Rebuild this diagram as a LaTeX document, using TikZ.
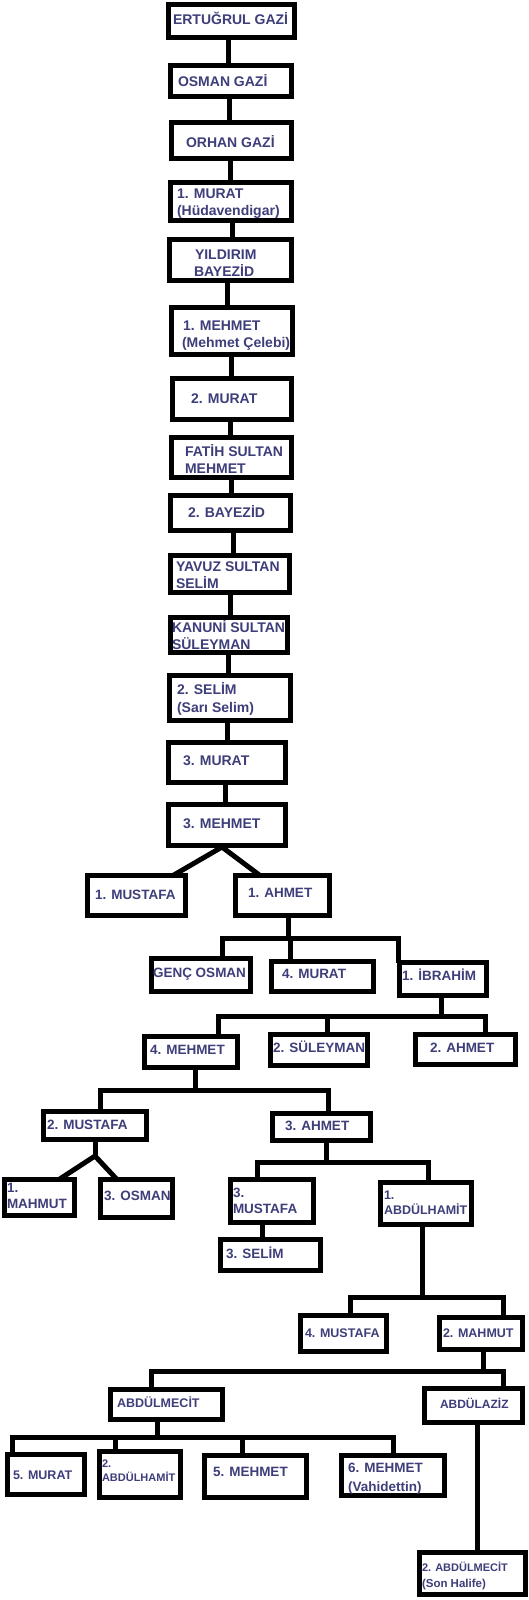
\documentclass[tikz,border=0pt]{standalone}
\usepackage{fontspec}
\setmainfont{Liberation Sans}
\definecolor{tc}{RGB}{62,62,122}
\tikzset{
  box/.style={draw=black, line width=5pt, inner sep=0pt, outer sep=0pt, fill=white},
  con/.style={draw=black, line width=5pt},
  txt/.style 2 args={anchor=west, inner sep=0pt, outer sep=0pt, text=tc,
     font=\bfseries\fontsize{#1}{#1}\selectfont, text height=#2, text depth=0pt},
  big/.style={txt={14}{10pt}},
  mid/.style={txt={13.5}{9.7pt}},
  sml/.style={txt={12.5}{8.95pt}},
  xsm/.style={txt={11}{7.9pt}},
}
\newcommand\obox[5]{\node[box, minimum width={#4-#2-5}, minimum height={#5-#3-5}] (#1) at ({(#2+#4)/2},{(#3+#5)/2}) {};}
\newcommand\vcon[3]{\draw[con] (#1.south -| #3,0) -- (#2.north -| #3,0);}
\begin{document}
\begin{tikzpicture}[x=1pt,y=-1pt]
\useasboundingbox (0,0) rectangle (529,1600);
% boxes
\obox{ert}{166}{2}{297}{40}
\obox{osm}{168}{63}{294}{99}
\obox{orh}{169}{120}{294}{161}
\obox{mur1}{168}{180}{294}{223}
\obox{yil}{167}{237}{294}{283}
\obox{meh1}{169}{305}{295}{357}
\obox{mur2}{170}{376}{294}{422}
\obox{fat}{169}{435}{294}{480}
\obox{bay2}{168}{493}{293}{533}
\obox{yav}{168}{553}{292}{595}
\obox{kan}{168}{615}{290}{655}
\obox{sel2}{167}{673}{293}{723}
\obox{mur3}{166}{740}{288}{785}
\obox{meh3}{166}{802}{288}{848}
\obox{mus1}{85}{873}{188}{918}
\obox{ahm1}{233}{873}{332}{918}
\obox{genc}{149}{956}{253}{994}
\obox{mur4}{269}{959}{376}{994}
\obox{ibr}{397}{960}{489}{998}
\obox{meh4}{142}{1034}{240}{1070}
\obox{sul2}{268}{1032}{370}{1068}
\obox{ahm2}{413}{1032}{518}{1067}
\obox{mus2}{41}{1109}{149}{1142}
\obox{ahm3}{270}{1111}{373}{1143}
\obox{mah1}{2}{1177}{77}{1218}
\obox{osm3}{98}{1177}{175}{1220}
\obox{mus3}{228}{1177}{316}{1225}
\obox{abd1}{378}{1180}{474}{1227}
\obox{sel3}{218}{1237}{323}{1273}
\obox{mus4}{298}{1313}{389}{1354}
\obox{mah2}{437}{1315}{525}{1352}
\obox{mec}{108}{1387}{225}{1422}
\obox{aziz}{422}{1386}{525}{1425}
\obox{mur5}{5}{1452}{87}{1497}
\obox{abd2}{97}{1449}{183}{1500}
\obox{meh5}{202}{1453}{309}{1500}
\obox{meh6}{339}{1453}{447}{1498}
\obox{mec2}{417}{1550}{528}{1597}
% chain connectors
\vcon{ert}{osm}{228}
\vcon{osm}{orh}{229}
\vcon{orh}{mur1}{230}
\vcon{mur1}{yil}{232}
\vcon{yil}{meh1}{227}
\vcon{meh1}{mur2}{231}
\vcon{mur2}{fat}{230}
\vcon{fat}{bay2}{231}
\vcon{bay2}{yav}{233}
\vcon{yav}{kan}{230}
\vcon{kan}{sel2}{228}
\vcon{sel2}{mur3}{227}
\vcon{mur3}{meh3}{225}
\vcon{mus3}{sel3}{262}
\vcon{aziz}{mec2}{477}
% junctions
\coordinate (j1) at (222,847);
\coordinate (j2) at (288,938);
\coordinate (j3) at (441,1016);
\coordinate (j4) at (195,1090);
\coordinate (j5) at (95,1156);
\coordinate (j6) at (326,1162);
\coordinate (j7) at (422,1297);
\coordinate (j8) at (483,1371);
\coordinate (j9) at (157,1437);
% trees
\draw[con] (mus1.north -| 173,0) -- (j1) -- (ahm1.north -| 260,0);
\draw[con] (ahm1.south -| 288,0) -- (j2);
\draw[con] (genc.north -| 222,0) |- (j2);
\draw[con] (mur4.north -| 290,0) |- (j2);
\draw[con] (ibr.north -| 398,0) |- (j2);
\draw[con] (ibr.south -| 441,0) -- (j3);
\draw[con] (meh4.north -| 218,0) |- (j3);
\draw[con] (sul2.north -| 327,0) |- (j3);
\draw[con] (ahm2.north -| 485,0) |- (j3);
\draw[con] (meh4.south -| 195,0) -- (j4);
\draw[con] (mus2.north -| 100,0) |- (j4);
\draw[con] (ahm3.north -| 328,0) |- (j4);
\draw[con] (mus2.south -| 95,0) -- (j5);
\draw[con] (mah1.north -| 59,0) -- (j5) -- (osm3.north -| 117,0);
\draw[con] (ahm3.south -| 326,0) -- (j6);
\draw[con] (mus3.north -| 257,0) |- (j6);
\draw[con] (abd1.north -| 428,0) |- (j6);
\draw[con] (abd1.south -| 422,0) -- (j7);
\draw[con] (mus4.north -| 350,0) |- (j7);
\draw[con] (mah2.north -| 503,0) |- (j7);
\draw[con] (mah2.south -| 483,0) -- (j8);
\draw[con] (mec.north -| 151,0) |- (j8);
\draw[con] (aziz.north -| 503,0) |- (j8);
\draw[con] (mec.south -| 157,0) -- (j9);
\draw[con] (mur5.north -| 12,0) |- (j9);
\draw[con] (abd2.north -| 115,0) |- (j9);
\draw[con] (meh5.north -| 242,0) |- (j9);
\draw[con] (meh6.north -| 393,0) |- (j9);
% texts
\node[big] (t1) at (173,20) {ERTUĞRUL GAZİ};
\node[big] (t2) at (178,82) {OSMAN GAZİ};
\node[big] (t3) at (186,142) {ORHAN GAZİ};
\node[big] (t4a) at (177,193) {1. MURAT};
\node[big] (t4b) at (177,210) {(Hüdavendigar)};
\node[big] (t5a) at (195,254) {YILDIRIM};
\node[big] (t5b) at (194,271) {BAYEZİD};
\node[big] (t6a) at (183,325) {1. MEHMET};
\node[big] (t6b) at (182,342) {(Mehmet Çelebi)};
\node[big] (t7) at (191,398) {2. MURAT};
\node[big] (t8a) at (185,451) {FATİH SULTAN};
\node[big] (t8b) at (185,468) {MEHMET};
\node[big] (t9) at (188,512) {2. BAYEZİD};
\node[big] (t10a) at (176,566) {YAVUZ SULTAN};
\node[big] (t10b) at (176,583) {SELİM};
\node[big] (t11a) at (172,627) {KANUNİ SULTAN};
\node[big] (t11b) at (172,644) {SÜLEYMAN};
\node[big] (t12a) at (177,689) {2. SELİM};
\node[big] (t12b) at (177,707) {(Sarı Selim)};
\node[big] (t13) at (183,760) {3. MURAT};
\node[big] (t14) at (183,823) {3. MEHMET};
\node[mid] (t15) at (95,895) {1. MUSTAFA};
\node[mid] (t16) at (248,893) {1. AHMET};
\node[mid] (t17) at (153,973) {GENÇ OSMAN};
\node[mid] (t18) at (282,974) {4. MURAT};
\node[mid] (t19) at (402,976) {1. İBRAHİM};
\node[mid] (t20) at (150,1050) {4. MEHMET};
\node[mid] (t21) at (273,1048) {2. SÜLEYMAN};
\node[mid] (t22) at (430,1048) {2. AHMET};
\node[mid] (t23) at (47,1125) {2. MUSTAFA};
\node[mid] (t24) at (285,1126) {3. AHMET};
\node[mid] (t25a) at (7,1188) {1.};
\node[mid] (t25b) at (7,1204) {MAHMUT};
\node[mid] (t26) at (104,1196) {3. OSMAN};
\node[mid] (t27a) at (233,1193) {3.};
\node[mid] (t27b) at (233,1209) {MUSTAFA};
\node[sml] (t28a) at (384,1195) {1.};
\node[sml] (t28b) at (384,1210) {ABDÜLHAMİT};
\node[mid] (t29) at (226,1254) {3. SELİM};
\node[sml] (t30) at (305,1333) {4. MUSTAFA};
\node[sml] (t31) at (443,1333) {2. MAHMUT};
\node[sml] (t32) at (117,1403) {ABDÜLMECİT};
\node[txt={12}{8.6pt}] (t33) at (440,1404) {ABDÜLAZİZ};
\node[sml] (t34) at (13,1475) {5. MURAT};
\node[xsm] (t35a) at (102,1464) {2.};
\node[xsm] (t35b) at (102,1478) {ABDÜLHAMİT};
\node[mid] (t36) at (213,1472) {5. MEHMET};
\node[mid] (t37a) at (348,1468) {6. MEHMET};
\node[mid] (t37b) at (348,1487) {(Vahidettin)};
\node[xsm] (t38a) at (422,1568) {2. ABDÜLMECİT};
\node[txt={11.5}{8.2pt}] (t38b) at (422,1583) {(Son Halife)};
\end{tikzpicture}
\end{document}
